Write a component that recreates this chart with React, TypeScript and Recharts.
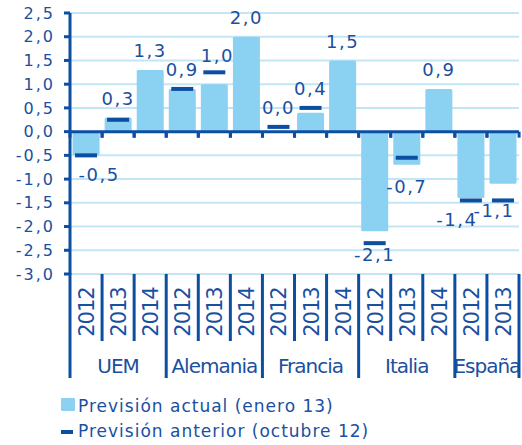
import React from 'react';
import {
  ComposedChart,
  Bar,
  Line,
  XAxis,
  YAxis,
  CartesianGrid,
  ReferenceLine,
  LabelList,
} from 'recharts';

// Forecast years per column, and the region each column belongs to
const years = ['2012', '2013', '2014', '2012', '2013', '2014', '2012', '2013', '2014', '2012', '2013', '2014', '2012', '2013'];
const regions = ['UEM', 'UEM', 'UEM', 'Alemania', 'Alemania', 'Alemania', 'Francia', 'Francia', 'Francia', 'Italia', 'Italia', 'Italia', 'España', 'España'];

// Current forecast (January 13)
const actual = [-0.5, 0.3, 1.3, 0.9, 1.0, 2.0, 0.0, 0.4, 1.5, -2.1, -0.7, 0.9, -1.4, -1.1];
// Previous forecast (October 12); no earlier figure for 2014
const previous = [-0.5, 0.25, null, 0.9, 1.25, null, 0.1, 0.5, null, -2.35, -0.55, null, -1.45, -1.45];

const yTicks = [-3, -2.5, -2, -1.5, -1, -0.5, 0, 0.5, 1, 1.5, 2, 2.5];

const SERIES_ACTUAL = 'Previsión actual (enero 13)';
const SERIES_PREVIOUS = 'Previsión anterior (octubre 12)';

const LIGHT = '#8BD1F1';
const DARK = '#0C4EA2';
const TEXT = '#1A509F';
const GRID = '#C2E6F6';
const FONT = '"DejaVu Sans", sans-serif';

const CHART_W = 522;
const CHART_H = 445;
const MARGIN = { top: 13, right: 3, left: 0, bottom: 55 };
const Y_AXIS_W = 70;
const X_AXIS_H = 116;
const GAP = 0.08;

// Hand placement of value labels that would otherwise collide or crowd the dashes
const labelNudge: Record<string, [number, number]> = {
  'UEM-2012': [13, 0],
  'Alemania-2013': [3, 2],
  'Italia-2012': [0, -8],
  'Italia-2013': [0, 3],
  'España-2012': [-14, 0],
  'España-2013': [-9, -9],
};

const fmt = (v: number) => v.toFixed(1).replace('.', ',');

const data = years.map((year, i) => {
  const a = actual[i];
  const p = previous[i];
  const anchor = p == null ? a : a >= 0 ? Math.max(a, p) : Math.min(a, p);
  return {
    key: `${regions[i]}-${year}`,
    year,
    region: regions[i],
    actual: a,
    previous: p,
    labelAnchor: anchor,
  };
});

const isGroupStart = (i: number) => i === 0 || regions[i] !== regions[i - 1];
const isGroupEnd = (i: number) => i === regions.length - 1 || regions[i] !== regions[i + 1];
const groupSize = (i: number) => regions.filter((r) => r === regions[i]).length;

const plotWidth = CHART_W - MARGIN.left - MARGIN.right - Y_AXIS_W;

// Two-level category axis: rotated years, region names, separator lines
const renderCategoryTick = (props: any) => {
  const { x, y, payload } = props;
  const i: number = payload.index;
  const half: number = payload.offset ? payload.offset : plotWidth / years.length / 2;
  const shortLen = 67;
  const longLen = 104;
  const right = x + half;
  const left = x - half;
  let groupLabel = null;
  if (isGroupStart(i)) {
    const cx = left + groupSize(i) * half;
    groupLabel = (
      <text
        x={cx}
        y={y + 99}
        textAnchor="middle"
        fill={TEXT}
        fontSize={20}
        letterSpacing={-1}
        fontFamily={FONT}
      >
        {regions[i]}
      </text>
    );
  }
  return (
    <g>
      <text
        x={x + 1}
        y={y + 38}
        transform={`rotate(-90, ${x + 1}, ${y + 38})`}
        textAnchor="middle"
        dominantBaseline="central"
        fill={TEXT}
        fontSize={21}
        letterSpacing={-1}
        fontFamily={FONT}
      >
        {years[i]}
      </text>
      <line
        x1={right}
        x2={right}
        y1={y}
        y2={y + (isGroupEnd(i) ? longLen : shortLen)}
        stroke={DARK}
        strokeWidth={3}
      />
      {i === 0 && <line x1={left} x2={left} y1={y - 1} y2={y + longLen} stroke={DARK} strokeWidth={3} />}
      {groupLabel}
    </g>
  );
};

// Bars plus the small tick marks hanging under the zero line at column edges
const renderBar = (props: any) => {
  const { x, y, width, height, payload } = props;
  const top = Math.min(y, y + height);
  const h = Math.abs(height);
  const v = payload.actual;
  const zeroY = v >= 0 ? top + h : top;
  const band = width / (1 - 2 * GAP);
  const l = x - GAP * band;
  const r = l + band;
  return (
    <g>
      {h > 0 && <rect x={x} y={top} width={width} height={h} rx={1.5} ry={1.5} fill={LIGHT} />}
      <line x1={l} x2={l} y1={zeroY} y2={zeroY + 6} stroke={DARK} strokeWidth={3} />
      <line x1={r} x2={r} y1={zeroY} y2={zeroY + 6} stroke={DARK} strokeWidth={3} />
    </g>
  );
};

// Previous forecast drawn as a short horizontal dash
const renderDash = (props: any) => {
  const { cx, cy, index } = props;
  if (cy == null || previous[index] == null) return <g key={`d-${index}`} />;
  return <rect key={`d-${index}`} x={cx - 11} y={cy - 2} width={22} height={4} fill={DARK} />;
};

const renderValueLabel = (props: any) => {
  const { x, y, index } = props;
  const v = actual[index];
  const [nx, ny] = labelNudge[data[index].key] || [0, 0];
  const dy = v < 0 ? 19 : -19;
  return (
    <text
      x={x + nx}
      y={y + dy + ny}
      textAnchor="middle"
      dominantBaseline="central"
      fill={TEXT}
      fontSize={18}
      letterSpacing={1.5}
      fontFamily={FONT}
    >
      {fmt(v)}
    </text>
  );
};

export default function App() {
  return (
    <div style={{ position: 'absolute', left: 0, top: 0, width: CHART_W, height: CHART_H, background: '#fff' }}>
      <ComposedChart
        width={CHART_W}
        height={CHART_H}
        data={data}
        margin={MARGIN}
        barCategoryGap={`${GAP * 100}%`}
      >
        <CartesianGrid vertical={false} stroke={GRID} strokeWidth={2} />
        <XAxis
          dataKey="key"
          height={X_AXIS_H}
          axisLine={false}
          tickLine={false}
          tickSize={0}
          tickMargin={0}
          interval={0}
          tick={renderCategoryTick}
        />
        <YAxis
          width={Y_AXIS_W}
          domain={[-3, 2.5]}
          ticks={yTicks}
          interval={0}
          tickFormatter={fmt}
          axisLine={{ stroke: DARK, strokeWidth: 3 }}
          tickLine={{ stroke: DARK, strokeWidth: 3 }}
          tickSize={6}
          tickMargin={9}
          tick={{ fill: TEXT, fontSize: 16, fontFamily: FONT, letterSpacing: 2 }}
        />
        <Bar dataKey="actual" name={SERIES_ACTUAL} fill={LIGHT} shape={renderBar} isAnimationActive={false} />
        <ReferenceLine y={0} stroke={DARK} strokeWidth={3} />
        <Line
          dataKey="previous"
          name={SERIES_PREVIOUS}
          stroke="none"
          dot={renderDash}
          activeDot={false}
          isAnimationActive={false}
        />
        <Line dataKey="labelAnchor" stroke="none" dot={false} activeDot={false} isAnimationActive={false}>
          <LabelList dataKey="actual" content={renderValueLabel} />
        </Line>
      </ComposedChart>
      <svg
        width={CHART_W}
        height={CHART_H}
        style={{ position: 'absolute', left: 0, top: 0, pointerEvents: 'none' }}
      >
        <rect x={61} y={398} width={14} height={13} rx={1} fill={LIGHT} />
        <text x={78} y={412} fill={TEXT} fontSize={17} letterSpacing={1} fontFamily={FONT}>
          {SERIES_ACTUAL}
        </text>
        <rect x={61} y={430} width={12} height={4} fill={DARK} />
        <text x={78} y={437} fill={TEXT} fontSize={17} letterSpacing={1} fontFamily={FONT}>
          {SERIES_PREVIOUS}
        </text>
      </svg>
    </div>
  );
}
